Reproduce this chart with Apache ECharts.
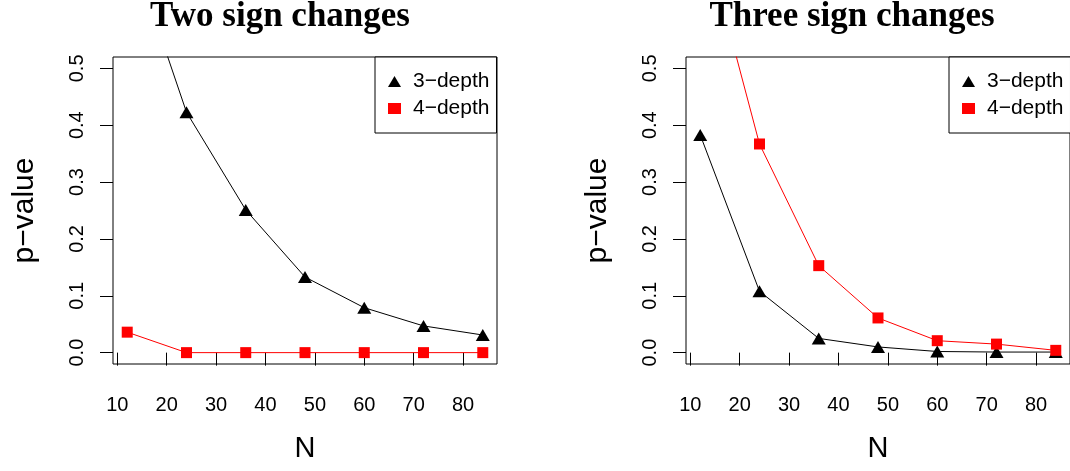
<!DOCTYPE html>
<html>
<head>
<meta charset="utf-8">
<script src="https://cdn.jsdelivr.net/npm/echarts@6/dist/echarts.min.js"></script>
<style>
html,body{margin:0;padding:0;background:#fff;}
#chart{width:1070px;height:471px;}
</style>
</head>
<body>
<div id="chart"></div>
<script>
// Data
const nValues = [12, 24, 36, 48, 60, 72, 84];
const twoDepth3 = [0.73, 0.423, 0.251, 0.133, 0.079, 0.047, 0.031];
const twoDepth4 = [0.036, 0, 0, 0, 0, 0, 0];
const threeDepth3 = [0.383, 0.108, 0.025, 0.010, 0.002, 0.001, 0.001];
const threeDepth4 = [0.76, 0.367, 0.153, 0.061, 0.021, 0.015, 0.004];
const xTicks = [10, 20, 30, 40, 50, 60, 70, 80];
const yTicks = [0, 0.1, 0.2, 0.3, 0.4, 0.5];
const panelTitles = ['Two sign changes', 'Three sign changes'];
const seriesNames = ['3\u2212depth', '4\u2212depth'];
const xName = 'N';
const yName = 'p\u2212value';

const pair = (xs, ys) => xs.map((x, i) => [x, ys[i]]);

const chart = echarts.init(document.getElementById('chart'), null, {renderer: 'canvas'});

const sans = 'Liberation Sans, Arial, Helvetica, sans-serif';
const serif = 'Liberation Serif, Times New Roman, serif';
const grids = [
  {left: 113, top: 57, width: 384, height: 307},
  {left: 686, top: 57, width: 385, height: 307}
];

function xAxisFor(i) {
  return {
    type: 'value', gridIndex: i, min: 9.12, max: 86.88,
    name: xName, nameLocation: 'middle', nameGap: 70,
    nameTextStyle: {fontFamily: sans, fontSize: 29, color: '#000'},
    axisLine: {show: false},
    axisTick: {show: true, length: 13, customValues: xTicks, lineStyle: {color: '#000', width: 1}},
    axisLabel: {customValues: xTicks, margin: 31, fontFamily: sans, fontSize: 20, color: '#000'},
    splitLine: {show: false}
  };
}
function yAxisFor(i) {
  return {
    type: 'value', gridIndex: i, min: -0.02, max: 0.52,
    name: yName, nameLocation: 'middle', nameGap: 73,
    nameTextStyle: {fontFamily: sans, fontSize: 30, color: '#000'},
    axisLine: {show: false},
    axisTick: {show: true, length: 13, customValues: yTicks, lineStyle: {color: '#000', width: 1}},
    axisLabel: {customValues: yTicks, rotate: 90, margin: 26, fontFamily: sans, fontSize: 20, color: '#000',
      formatter: v => Number(v).toFixed(1)},
    splitLine: {show: false}
  };
}
function lineSeries(i, name, ys, color, symbol, size) {
  return {
    type: 'line', name: name, xAxisIndex: i, yAxisIndex: i,
    data: pair(nValues, ys), clip: true,
    symbol: symbol, symbolSize: size, showAllSymbol: true,
    itemStyle: {color: color},
    lineStyle: {color: color, width: 1},
    emphasis: {disabled: true},
    animation: false
  };
}
function legendFor(left) {
  return {
    left: left, top: 57, orient: 'vertical',
    padding: [14, 7, 14, 13], itemGap: 6,
    itemWidth: 13, itemHeight: 11,
    borderColor: '#000', borderWidth: 1, borderRadius: 0,
    backgroundColor: '#fff',
    selectedMode: false,
    textStyle: {fontFamily: sans, fontSize: 21, color: '#000', padding: [0, 0, 0, 7]},
    data: [{name: seriesNames[0], icon: 'triangle'}, {name: seriesNames[1], icon: 'rect'}]
  };
}

chart.setOption({
  animation: false,
  backgroundColor: '#fff',
  title: [
    {text: panelTitles[0], left: 280, top: -1, textAlign: 'center', padding: 0,
     textStyle: {fontFamily: serif, fontWeight: 'bold', fontSize: 35, color: '#000'}},
    {text: panelTitles[1], left: 852, top: -1, textAlign: 'center', padding: 0,
     textStyle: {fontFamily: serif, fontWeight: 'bold', fontSize: 35, color: '#000'}}
  ],
  grid: grids.map(g => Object.assign({show: true, borderColor: '#000', borderWidth: 1, backgroundColor: 'transparent'}, g)),
  xAxis: [xAxisFor(0), xAxisFor(1)],
  yAxis: [yAxisFor(0), yAxisFor(1)],
  legend: [legendFor(375), legendFor(949)],
  series: [
    lineSeries(0, seriesNames[0], twoDepth3, '#000000', 'triangle', [14, 12]),
    lineSeries(0, seriesNames[1], twoDepth4, '#ff0000', 'rect', 11),
    lineSeries(1, seriesNames[0], threeDepth3, '#000000', 'triangle', [14, 12]),
    lineSeries(1, seriesNames[1], threeDepth4, '#ff0000', 'rect', 11)
  ]
});
</script>
</body>
</html>
